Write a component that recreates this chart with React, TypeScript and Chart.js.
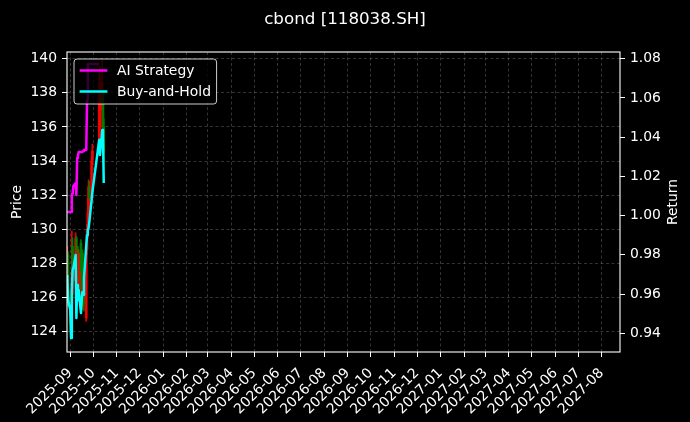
import React, { useEffect, useRef } from "react";
import { Chart, registerables } from "chart.js";

Chart.register(...registerables);

const TITLE = "cbond [118038.SH]";
const LEFT_LABEL = "Price";
const RIGHT_LABEL = "Return";

const DATES = [
  "2025-08-28", "2025-08-29", "2025-09-01", "2025-09-02", "2025-09-03", "2025-09-04",
  "2025-09-05", "2025-09-08", "2025-09-09", "2025-09-10", "2025-09-11", "2025-09-12",
  "2025-09-15", "2025-09-16", "2025-09-17", "2025-09-18", "2025-09-19", "2025-09-22",
  "2025-09-23", "2025-09-24", "2025-09-25", "2025-09-26", "2025-09-29", "2025-09-30",
  "2025-10-09", "2025-10-10", "2025-10-13", "2025-10-14", "2025-10-15",
];

const OPEN = [
  126.5, 128.5, 126.0, 125.0, 124.0, 129.0, 127.0, 127.0, 129.5, 126.5, 128.8, 126.5,
  129.2, 126.0, 128.6, 125.8, 126.8, 124.8, 128.8, 130.0, 131.0, 132.5, 131.8, 134.0,
  135.0, 136.0, 137.0, 138.0, 136.0,
];
const HIGH = [
  129.0, 128.7, 126.4, 125.4, 129.9, 129.5, 128.6, 129.8, 129.6, 129.0, 129.0, 128.8,
  129.4, 128.0, 128.8, 127.2, 127.0, 129.0, 130.3, 131.8, 132.9, 132.8, 134.3, 135.0,
  139.2, 139.6, 139.9, 138.2, 136.5,
];
const LOW = [
  126.0, 125.5, 124.6, 123.7, 123.9, 126.5, 126.2, 126.5, 126.0, 126.0, 126.2, 125.8,
  126.0, 125.5, 125.5, 125.3, 125.2, 124.6, 128.5, 129.5, 130.6, 131.2, 131.5, 133.6,
  134.8, 135.5, 135.5, 135.6, 134.0,
];
const CLOSE = [
  128.5, 126.0, 125.0, 124.0, 127.5, 127.0, 128.0, 129.5, 127.5, 128.8, 127.0, 128.6,
  126.5, 127.5, 125.8, 126.8, 125.6, 128.8, 130.0, 131.0, 132.5, 131.8, 134.0, 134.6,
  138.5, 139.0, 138.6, 136.0, 134.5,
];

const AI_STRATEGY = [
  1.0018, 1.0018, 1.0018, 1.0018, 1.011, 1.011, 1.0151, 1.0166, 1.0105, 1.0294, 1.0304, 1.0324,
  1.0324, 1.0324, 1.0324, 1.0329, 1.0335, 1.0335, 1.0589, 1.0773, 1.0773, 1.0773, 1.0773, 1.0773,
  1.0773, 1.0773, null, null, null,
];
const BUY_AND_HOLD = [
  0.9697, 0.957, 0.9519, 0.9376, 0.9621, 0.9723, 0.9733, 0.9799, 0.9478, 0.9646, 0.957, 0.9621,
  0.9503, 0.957, 0.9611, 0.9596, 0.9682, 0.985, 0.9901, 0.9927, 0.9937, 0.9967, 1.008, 1.012,
  1.0386, 1.0309, 1.0436, 1.0411, 1.0166,
];

const MONTH_LABELS = [
  "2025-09", "2025-10", "2025-11", "2025-12", "2026-01", "2026-02", "2026-03", "2026-04",
  "2026-05", "2026-06", "2026-07", "2026-08", "2026-09", "2026-10", "2026-11", "2026-12",
  "2027-01", "2027-02", "2027-03", "2027-04", "2027-05", "2027-06", "2027-07", "2027-08",
];
const PRICE_TICKS = [124, 126, 128, 130, 132, 134, 136, 138, 140];
const RETURN_TICKS = [0.94, 0.96, 0.98, 1.0, 1.02, 1.04, 1.06, 1.08];

const X_START = "2025-08-27T15:36:00";
const X_END = "2027-08-25T00:00:00";
const PRICE_RANGE = [122.81, 140.393];
const RETURN_RANGE = [0.93047, 1.08342];

const FONT = "DejaVu Sans";

function dayOf(s: string): number {
  let iso = s;
  if (s.length === 7) iso = s + "-01T00:00:00";
  else if (s.length === 10) iso = s + "T00:00:00";
  return Date.parse(iso + "Z") / 86400000;
}

const UP = "rgba(255,0,0,0.9)";
const DOWN = "rgba(0,128,0,0.9)";

const decorPlugin = {
  id: "decor",
  beforeDraw(chart: any) {
    const ctx = chart.ctx;
    ctx.save();
    ctx.fillStyle = "#000";
    ctx.fillRect(0, 0, chart.width, chart.height);
    ctx.restore();
  },
  afterDatasetsDraw(chart: any) {
    const ctx = chart.ctx;
    const a = chart.chartArea;
    ctx.save();
    ctx.strokeStyle = "#fff";
    ctx.lineWidth = 1.1;
    ctx.strokeRect(a.left, a.top, a.right - a.left, a.bottom - a.top);

    const lx = a.left + 7;
    const ly = a.top + 7;
    ctx.font = `13.9px '${FONT}'`;
    const labels = [chart.data.datasets[0], chart.data.datasets[1]];
    let maxW = 0;
    labels.forEach((d: any) => {
      maxW = Math.max(maxW, ctx.measureText(d.label).width);
    });
    const pad = 5.6;
    const handle = 27.8;
    const gap = 9.5;
    const w = pad + handle + gap + maxW + pad;
    const h = 45;
    const r = 3;
    ctx.beginPath();
    ctx.moveTo(lx + r, ly);
    ctx.lineTo(lx + w - r, ly);
    ctx.arcTo(lx + w, ly, lx + w, ly + r, r);
    ctx.lineTo(lx + w, ly + h - r);
    ctx.arcTo(lx + w, ly + h, lx + w - r, ly + h, r);
    ctx.lineTo(lx + r, ly + h);
    ctx.arcTo(lx, ly + h, lx, ly + h - r, r);
    ctx.lineTo(lx, ly + r);
    ctx.arcTo(lx, ly, lx + r, ly, r);
    ctx.closePath();
    ctx.fillStyle = "rgba(0,0,0,0.8)";
    ctx.fill();
    ctx.strokeStyle = "rgba(255,255,255,0.8)";
    ctx.lineWidth = 1;
    ctx.stroke();
    labels.forEach((d: any, i: number) => {
      const y = ly + 11.5 + i * 21;
      ctx.strokeStyle = d.borderColor;
      ctx.lineWidth = d.borderWidth;
      ctx.beginPath();
      ctx.moveTo(lx + pad, y);
      ctx.lineTo(lx + pad + handle, y);
      ctx.stroke();
      ctx.fillStyle = "#fff";
      ctx.textAlign = "left";
      ctx.textBaseline = "middle";
      ctx.fillText(d.label, lx + pad + handle + gap, y + 1);
    });
    ctx.restore();
  },
  afterDraw(chart: any) {
    const ctx = chart.ctx;
    const a = chart.chartArea;
    ctx.save();
    ctx.fillStyle = "#fff";
    ctx.textAlign = "center";
    ctx.textBaseline = "middle";
    ctx.font = `16.7px '${FONT}'`;
    ctx.fillText(TITLE, chart.width / 2, 20);
    ctx.font = `13.9px '${FONT}'`;
    const cy = (a.top + a.bottom) / 2;
    ctx.save();
    ctx.translate(17, cy);
    ctx.rotate(-Math.PI / 2);
    ctx.fillText(LEFT_LABEL, 0, 0);
    ctx.restore();
    ctx.save();
    ctx.translate(673, cy);
    ctx.rotate(-Math.PI / 2);
    ctx.fillText(RIGHT_LABEL, 0, 0);
    ctx.restore();
    ctx.restore();
  },
};

export default function App() {
  const ref = useRef<HTMLCanvasElement>(null);

  useEffect(() => {
    document.body.style.margin = "0";
    document.body.style.background = "#000";
    const xs = DATES.map(dayOf);
    const colors = OPEN.map((o, i) => (CLOSE[i] >= o ? UP : DOWN));
    const gridColor = "rgba(128,128,128,0.5)";
    const tickFont = { family: FONT, size: 13.9 };

    const chart = new Chart(ref.current as HTMLCanvasElement, {
      type: "line",
      data: {
        datasets: [
          {
            type: "line",
            label: "AI Strategy",
            data: xs.map((x, i) => ({ x, y: AI_STRATEGY[i] })),
            yAxisID: "y1",
            borderColor: "#ff00ff",
            borderWidth: 2.5,
            pointRadius: 0,
            tension: 0,
            spanGaps: false,
            borderJoinStyle: "round",
            order: 0,
          },
          {
            type: "line",
            label: "Buy-and-Hold",
            data: xs.map((x, i) => ({ x, y: BUY_AND_HOLD[i] })),
            yAxisID: "y1",
            borderColor: "#00ffff",
            borderWidth: 2.5,
            pointRadius: 0,
            tension: 0,
            borderJoinStyle: "round",
            order: 1,
          },
          {
            type: "bar",
            label: "body",
            data: xs.map((x, i) => ({ x, y: [OPEN[i], CLOSE[i]] })),
            yAxisID: "y",
            backgroundColor: colors,
            borderWidth: 0,
            barThickness: 2,
            grouped: false,
            order: 2,
          },
          {
            type: "bar",
            label: "wick",
            data: xs.map((x, i) => ({ x, y: [LOW[i], HIGH[i]] })),
            yAxisID: "y",
            backgroundColor: colors,
            borderWidth: 0,
            barThickness: 1,
            grouped: false,
            order: 3,
          },
        ] as any,
      },
      options: {
        animation: false,
        responsive: false,
        layout: { padding: { top: 52, left: 0, right: 0, bottom: 0 } },
        plugins: {
          legend: { display: false },
          title: { display: false },
          tooltip: { enabled: false },
        },
        scales: {
          x: {
            type: "linear",
            min: dayOf(X_START),
            max: dayOf(X_END),
            offset: false,
            afterBuildTicks: (s: any) => {
              s.ticks = MONTH_LABELS.map((m) => ({ value: dayOf(m) }));
            },
            afterFit: (s: any) => {
              s.height = 70;
            },
            ticks: {
              color: "#fff",
              font: tickFont,
              autoSkip: false,
              maxRotation: 45,
              minRotation: 45,
              padding: 8,
              callback: (_v: any, i: number) => MONTH_LABELS[i],
            },
            grid: {
              color: gridColor,
              lineWidth: 0.8,
              offset: false,
              drawTicks: true,
              tickColor: "#fff",
              tickLength: 5,
              tickWidth: 1,
            },
            border: { display: false, dash: [3, 2.5] },
          },
          y: {
            type: "linear",
            position: "left",
            min: PRICE_RANGE[0],
            max: PRICE_RANGE[1],
            afterBuildTicks: (s: any) => {
              s.ticks = PRICE_TICKS.map((v) => ({ value: v }));
            },
            afterFit: (s: any) => {
              s.width = 67;
            },
            ticks: {
              color: "#fff",
              font: tickFont,
              padding: 5,
              callback: (v: any) => String(v),
            },
            grid: {
              color: gridColor,
              lineWidth: 0.8,
              drawTicks: true,
              tickColor: "#fff",
              tickLength: 5,
              tickWidth: 1,
            },
            border: { display: false, dash: [3, 2.5] },
          },
          y1: {
            type: "linear",
            position: "right",
            min: RETURN_RANGE[0],
            max: RETURN_RANGE[1],
            afterBuildTicks: (s: any) => {
              s.ticks = RETURN_TICKS.map((v) => ({ value: v }));
            },
            afterFit: (s: any) => {
              s.width = 70;
            },
            ticks: {
              color: "#fff",
              font: tickFont,
              padding: 5,
              callback: (v: any) => Number(v).toFixed(2),
            },
            grid: {
              drawOnChartArea: false,
              drawTicks: true,
              tickColor: "#fff",
              tickLength: 5,
              tickWidth: 1,
            },
            border: { display: false },
          },
        },
      } as any,
      plugins: [decorPlugin],
    });
    return () => chart.destroy();
  }, []);

  return (
    <div style={{ position: "absolute", left: 0, top: 0, width: 690, height: 422, background: "#000" }}>
      <canvas ref={ref} width={690} height={422} style={{ display: "block", width: 690, height: 422 }} />
    </div>
  );
}
